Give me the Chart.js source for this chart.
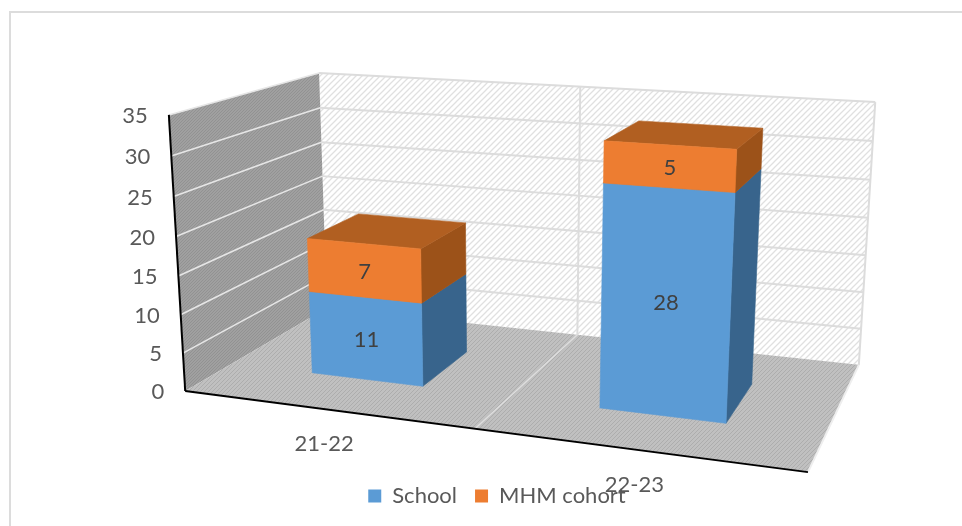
<!DOCTYPE html>
<html>
<head>
<meta charset="utf-8">
<title>School and MHM cohort</title>
<script src="https://cdn.jsdelivr.net/npm/chart.js@4"></script>
<style>
  html, body { margin: 0; padding: 0; background: #fff; overflow: hidden; width: 962px; height: 526px; }
  canvas { display: block; }
</style>
</head>
<body>
<canvas id="myChart" width="994" height="526"></canvas>
<script>
// chart data
const categories = ['21-22', '22-23'];
const schoolValues = [11, 28];
const cohortValues = [7, 5];
const yMax = 35;
const yStep = 5;

// camera: where corners of the unit box (across, up, depth) land on screen
const boxCorners = [
  [0, 0, 0, 186, 391],
  [1, 0, 0, 808, 472],
  [0, 1, 0, 168, 115],
  [0, 0, 1, 326, 308],
  [1, 0, 1, 859, 365],
  [0, 1, 1, 320, 73],
  [1, 1, 1, 875, 102]
];
// bars sit between these depths inside the box
const barFront = 0.3;
const barBack = 0.68;

// solves the 3D -> 2D projective matrix by least squares
function solveCamera(points) {
  const n = 11;
  const A = Array.from({ length: n }, () => new Array(n + 1).fill(0));
  const addRow = (row, rhs) => {
    for (let i = 0; i < n; i++) {
      for (let j = 0; j < n; j++) A[i][j] += row[i] * row[j];
      A[i][n] += row[i] * rhs;
    }
  };
  points.forEach(([u, v, w, x, y]) => {
    addRow([u, v, w, 1, 0, 0, 0, 0, -x * u, -x * v, -x * w], x);
    addRow([0, 0, 0, 0, u, v, w, 1, -y * u, -y * v, -y * w], y);
  });
  for (let c = 0; c < n; c++) {
    let best = c;
    for (let r = c + 1; r < n; r++) if (Math.abs(A[r][c]) > Math.abs(A[best][c])) best = r;
    [A[c], A[best]] = [A[best], A[c]];
    for (let r = 0; r < n; r++) {
      if (r === c) continue;
      const f = A[r][c] / A[c][c];
      for (let k = c; k <= n; k++) A[r][k] -= f * A[c][k];
    }
  }
  return A.map((row, i) => row[n] / row[i]);
}

const cam = solveCamera(boxCorners);

function project(u, v, w) {
  const d = cam[8] * u + cam[9] * v + cam[10] * w + 1;
  return [
    (cam[0] * u + cam[1] * v + cam[2] * w + cam[3]) / d,
    (cam[4] * u + cam[5] * v + cam[6] * w + cam[7]) / d
  ];
}

function hatch(ctx, bg, line, size, lineWidth) {
  const tile = document.createElement('canvas');
  tile.width = tile.height = size;
  const t = tile.getContext('2d');
  t.fillStyle = bg;
  t.fillRect(0, 0, size, size);
  t.strokeStyle = line;
  t.lineWidth = lineWidth;
  t.beginPath();
  t.moveTo(-1, size + 1); t.lineTo(size + 1, -1);
  t.moveTo(-1, 1); t.lineTo(1, -1);
  t.moveTo(size - 1, size + 1); t.lineTo(size + 1, size - 1);
  t.stroke();
  return ctx.createPattern(tile, 'repeat');
}

function face(ctx, pts, fill) {
  ctx.beginPath();
  pts.forEach((p, i) => (i ? ctx.lineTo(p[0], p[1]) : ctx.moveTo(p[0], p[1])));
  ctx.closePath();
  ctx.fillStyle = fill;
  ctx.fill();
  if (typeof fill === 'string') {
    ctx.strokeStyle = fill;
    ctx.lineWidth = 0.6;
    ctx.stroke();
  }
}

function seg(ctx, a, b, color, width) {
  ctx.beginPath();
  ctx.moveTo(a[0], a[1]);
  ctx.lineTo(b[0], b[1]);
  ctx.strokeStyle = color;
  ctx.lineWidth = width;
  ctx.stroke();
}

// side and top shades for each series
const sideShades = ['#38648c', '#9c5219'];
const topShade = '#b15f21';

// draws walls, floor and the bars in perspective from the chart's own scales
const perspective3d = {
  id: 'perspective3d',
  beforeDatasetsDraw(chart) {
    const ctx = chart.ctx;
    const area = chart.chartArea;
    const xs = chart.scales.x;
    const ys = chart.scales.y;
    const toU = px => (px - area.left) / area.width;
    const toV = py => (area.bottom - py) / area.height;
    ctx.save();

    // outer frame, runs off the right and bottom of the page
    ctx.strokeStyle = '#dcdcdc';
    ctx.lineWidth = 2;
    ctx.strokeRect(10, 12, 1100, 800);

    // walls and floor
    face(ctx, [project(0, 1, 1), project(1, 1, 1), project(1, 0, 1), project(0, 0, 1)],
      hatch(ctx, '#ffffff', '#e0e0e0', 6, 1.3));
    face(ctx, [project(0, 1, 0), project(0, 1, 1), project(0, 0, 1), project(0, 0, 0)],
      hatch(ctx, '#a0a0a0', '#929292', 3, 1));
    face(ctx, [project(0, 0, 0), project(0, 0, 1), project(1, 0, 1), project(1, 0, 0)],
      hatch(ctx, '#c0c0c0', '#adadad', 4, 1));

    // gridlines on both walls
    ys.ticks.forEach(t => {
      const v = toV(ys.getPixelForValue(t.value));
      if (t.value > 0) {
        seg(ctx, project(0, v, 1), project(1, v, 1), '#dcdcdc', 2);
        seg(ctx, project(0, v, 0), project(0, v, 1), '#e6e6e6', 1.6);
      }
    });
    seg(ctx, project(1, 1, 1), project(1, 0, 1), '#dcdcdc', 2);
    seg(ctx, project(0.5, 1, 1), project(0.5, 0, 1), '#dcdcdc', 2);
    seg(ctx, project(0.5, 0, 0), project(0.5, 0, 1), '#dedede', 1.5);
    seg(ctx, project(1, 0, 0), project(1, 0, 1), '#eeeeee', 2);

    // axis lines
    seg(ctx, project(0, 1, 0), project(0, 0, 0), '#000000', 2);
    seg(ctx, project(0, 0, 0), project(1, 0, 0), '#000000', 2);

    // bars: go through the categories, stacking upward
    const labels = [];
    categories.forEach((c, i) => {
      chart.data.datasets.forEach((ds, di) => {
        const bar = chart.getDatasetMeta(di).data[i];
        const u0 = toU(bar.x - bar.width / 2);
        const u1 = toU(bar.x + bar.width / 2);
        const v0 = toV(bar.base);
        const v1 = toV(bar.y);
        const fl = project(u0, v0, barFront), fr = project(u1, v0, barFront);
        const tl = project(u0, v1, barFront), tr = project(u1, v1, barFront);
        const br = project(u1, v0, barBack), trb = project(u1, v1, barBack), tlb = project(u0, v1, barBack);
        face(ctx, [fr, br, trb, tr], sideShades[di]);
        face(ctx, [tl, tr, trb, tlb], topShade);
        face(ctx, [fl, fr, tr, tl], ds.backgroundColor);
        labels.push({
          text: String(ds.data[i]),
          x: (fl[0] + fr[0] + tl[0] + tr[0]) / 4,
          y: (fl[1] + fr[1] + tl[1] + tr[1]) / 4
        });
      });
    });

    // value labels
    ctx.font = '22px Lato';
    ctx.textAlign = 'center';
    ctx.textBaseline = 'middle';
    ctx.fillStyle = '#404040';
    labels.forEach(l => ctx.fillText(l.text, l.x, l.y + 1));

    // tick labels, following the slanted axis
    ctx.fillStyle = '#595959';
    ctx.textAlign = 'right';
    ys.ticks.forEach(t => {
      const p = project(0, toV(ys.getPixelForValue(t.value)), 0);
      ctx.fillText(t.label, p[0] - 21, p[1] + 1);
    });
    ctx.textAlign = 'center';
    xs.getLabels().forEach((name, i) => {
      const p = project(toU(xs.getPixelForValue(i)), 0, 0);
      ctx.fillText(name, p[0] - 1, p[1] + 35);
    });

    ctx.restore();
    return false; // native flat bars are replaced by the ones above
  }
};

const ctx = document.getElementById('myChart').getContext('2d');

new Chart(ctx, {
  type: 'bar',
  data: {
    labels: categories,
    datasets: [
      { label: 'School', data: schoolValues, backgroundColor: '#5b9bd5' },
      { label: 'MHM cohort', data: cohortValues, backgroundColor: '#ed7d31' }
    ]
  },
  options: {
    responsive: false,
    animation: false,
    categoryPercentage: 0.8,
    barPercentage: 0.5,
    layout: { padding: { bottom: 9 } },
    scales: {
      x: { stacked: true, display: false },
      y: { stacked: true, display: false, min: 0, max: yMax, ticks: { stepSize: yStep } }
    },
    plugins: {
      tooltip: { enabled: false },
      legend: {
        position: 'bottom',
        labels: {
          boxWidth: 13,
          boxHeight: 13,
          padding: 18,
          color: '#595959',
          font: { family: 'Lato', size: 22 }
        }
      }
    }
  },
  plugins: [perspective3d]
});
</script>
</body>
</html>
